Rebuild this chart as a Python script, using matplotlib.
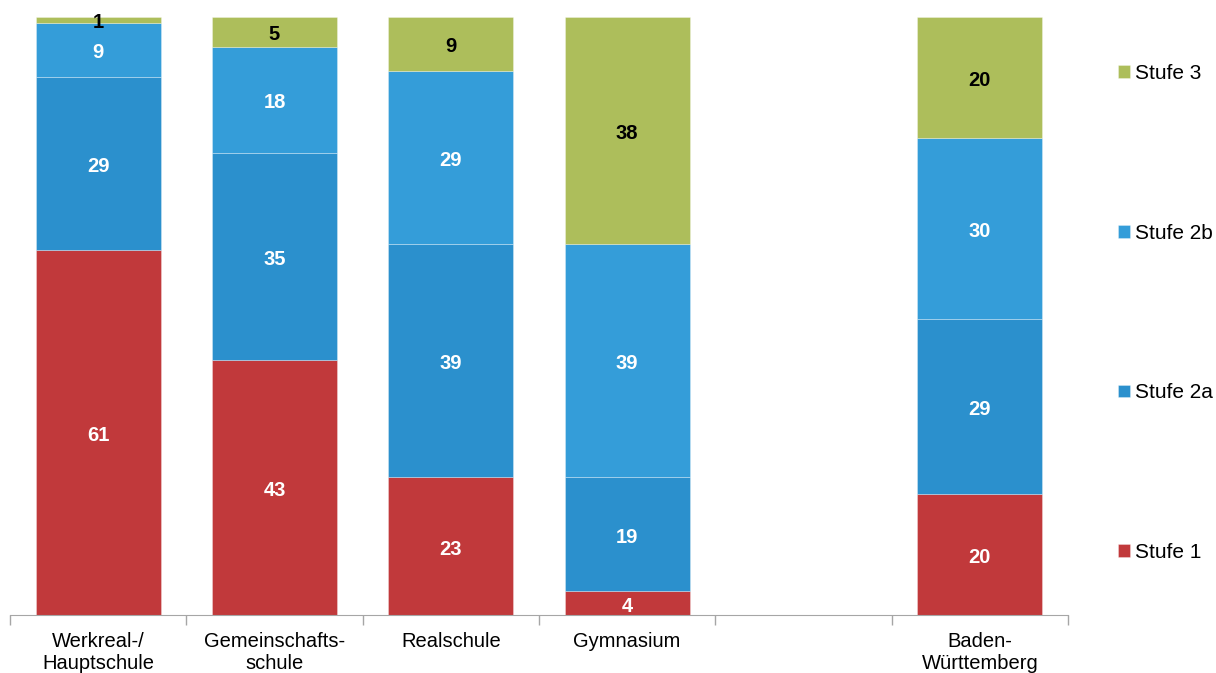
import numpy as np
import matplotlib.pyplot as plt

plt.rcParams['font.family'] = ['Liberation Sans', 'DejaVu Sans']

# data (percent per Stufe, as printed in the chart)
categories = ['Werkreal-/\nHauptschule', 'Gemeinschafts-\nschule', 'Realschule',
              'Gymnasium', '', 'Baden-\nWürttemberg']
stufe1  = [61, 43, 23, 4, 0, 20]
stufe2a = [29, 35, 39, 19, 0, 29]
stufe2b = [9, 18, 29, 39, 0, 30]
stufe3  = [1, 5, 9, 38, 0, 20]
series_names = ['Stufe 1', 'Stufe 2a', 'Stufe 2b', 'Stufe 3']

colors = ['#C1393B', '#2B90CD', '#349DD9', '#ADBE5B']
text_colors = ['white', 'white', 'white', 'black']

series = np.array([stufe1, stufe2a, stufe2b, stufe3], dtype=float)
totals = series.sum(axis=0)
shares = np.where(totals > 0, series / np.where(totals > 0, totals, 1) * 100, 0)

fig = plt.figure(figsize=(12.16, 6.73), dpi=100)
ax = fig.add_axes([10/1216, 58/673, 1058/1216, 598/673])

x = np.arange(len(categories))
bottom = np.zeros(len(categories))
handles = []
for k in range(4):
    bars = ax.bar(x, shares[k], 0.71, bottom=bottom, color=colors[k],
                  edgecolor=(1, 1, 1, 0.35), linewidth=0.6, label=series_names[k])
    handles.append(bars)
    for i in range(len(categories)):
        if series[k, i] > 0:
            ax.text(x[i], bottom[i] + shares[k, i] / 2 - 0.5, '%d' % series[k, i],
                    ha='center', va='center', color=text_colors[k],
                    fontsize=14.5, fontweight='bold')
    bottom += shares[k]

ax.set_xlim(-0.5, len(categories) - 0.5)
ax.set_ylim(0, 100)
for s in ['top', 'right', 'left']:
    ax.spines[s].set_visible(False)
ax.spines['bottom'].set_color('#A6A6A6')
ax.set_yticks([])

ax.set_xticks(x)
ax.set_xticklabels(categories, fontsize=14.5, linespacing=1.2)
ax.tick_params(axis='x', which='major', length=0, pad=12)
ax.set_xticks(np.arange(-0.5, len(categories)), minor=True)
ax.tick_params(axis='x', which='minor', length=7, color='#A6A6A6', width=1)

ax.legend(handles[::-1], series_names[::-1], loc='center left',
          bbox_to_anchor=(1108/1216, 1 - 313/673), bbox_transform=fig.transFigure,
          frameon=False, fontsize=15, handlelength=0.55, handleheight=0.55,
          handletextpad=0.25, labelspacing=6.75, borderpad=0)

fig.savefig('out.png', dpi=100)
